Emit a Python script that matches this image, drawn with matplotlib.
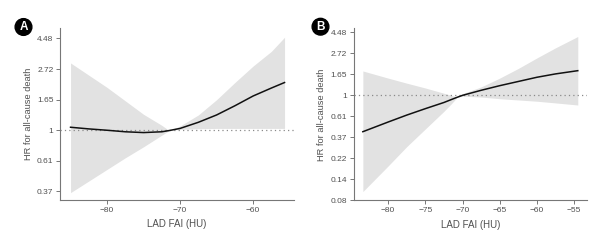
import numpy as np
import matplotlib
matplotlib.use('Agg')
import matplotlib.pyplot as plt

plt.rcParams['font.family'] = ['Liberation Sans', 'DejaVu Sans']

# panel A: log(HR)
a_x = [-85, -82.5, -80, -77.5, -75, -72.5, -71.5, -70, -67.5, -65, -62.5, -60, -57.5, -55.7]
a_fit = [0.049, 0.022, 0.0, -0.025, -0.038, -0.025, -0.005, 0.03, 0.13, 0.25, 0.40, 0.56, 0.69, 0.78]
a_hi = [1.10, 0.90, 0.70, 0.48, 0.26, 0.08, -0.005, 0.07, 0.25, 0.50, 0.78, 1.05, 1.29, 1.52]
a_lo = [-1.02, -0.83, -0.64, -0.45, -0.27, -0.08, -0.005, 0.015, 0.025, 0.03, 0.03, 0.03, 0.03, 0.03]
a_yticks = [-1, -0.5, 0, 0.5, 1, 1.5]
a_ylabels = ['0.37', '0.61', '1', '1.65', '2.72', '4.48']
a_xticks = [-80, -70, -60]

# panel B
b_x = [-83.4, -80, -77.5, -75, -72.5, -71.5, -70.7, -70, -67.5, -65, -62.5, -60, -57.5, -54.5]
b_fit = [-0.865, -0.635, -0.47, -0.317, -0.17, -0.10, -0.045, 0.0, 0.12, 0.23, 0.33, 0.43, 0.51, 0.587]
b_hi = [0.58, 0.41, 0.29, 0.175, 0.05, 0.0, -0.045, 0.04, 0.20, 0.41, 0.64, 0.89, 1.13, 1.40]
b_lo = [-2.29, -1.68, -1.22, -0.80, -0.38, -0.20, -0.045, -0.02, -0.04, -0.08, -0.11, -0.14, -0.18, -0.23]
b_yticks = [-2.5, -2, -1.5, -1, -0.5, 0, 0.5, 1, 1.5]
b_ylabels = ['0.08', '0.14', '0.22', '0.37', '0.61', '1', '1.65', '2.72', '4.48']
b_xticks = [-80, -75, -70, -65, -60, -55]

txt = '#505050'
fig = plt.figure(figsize=(6.05, 2.4), dpi=100)
axA = fig.add_axes([0.0997, 0.1667, 0.3863, 0.7163])
axB = fig.add_axes([0.585, 0.165, 0.386, 0.717])


def panel(ax, x, fit, lo, hi, yt, yl, xt, xlim, ylim):
    ax.fill_between(x, lo, hi, color='#e2e2e2', lw=0)
    ax.axhline(0, color='#8a8a8a', lw=0.9, ls=(0, (1, 2.5)))
    ax.plot(x, fit, color='#111111', lw=1.1)
    ax.set_xlim(*xlim)
    ax.set_ylim(*ylim)
    ax.set_yticks(yt)
    ax.set_yticklabels(yl)
    ax.set_xticks(xt)
    ax.set_xticklabels(['\u2212%d' % abs(v) for v in xt])
    for s in ['top', 'right']:
        ax.spines[s].set_visible(False)
    for s in ['left', 'bottom']:
        ax.spines[s].set_color('#777777')
        ax.spines[s].set_linewidth(0.8)
    ax.tick_params(length=3, width=0.7, color='#777777', labelcolor=txt,
                   labelsize=6, pad=2)
    ax.set_xlabel('LAD FAI (HU)', fontsize=7, color=txt, labelpad=4)
    ax.set_ylabel('HR for all-cause death', fontsize=6.7, color=txt, labelpad=3)


panel(axA, a_x, a_fit, a_lo, a_hi, a_yticks, a_ylabels, a_xticks,
      (-86.4, -54.4), (-1.14, 1.67))
panel(axB, b_x, b_fit, b_lo, b_hi, b_yticks, b_ylabels, b_xticks,
      (-84.6, -53.2), (-2.5, 1.595))

for lbl, xp, yp in [('A', 23.5 / 605, 1 - 27 / 240), ('B', 320.5 / 605, 1 - 26.7 / 240)]:
    fig.text(xp, yp, lbl, color='white', fontsize=8.5, weight='bold',
             ha='center', va='center',
             bbox=dict(boxstyle='circle,pad=0.2', fc='black', ec='black'))

fig.savefig('out.png', dpi=100)
